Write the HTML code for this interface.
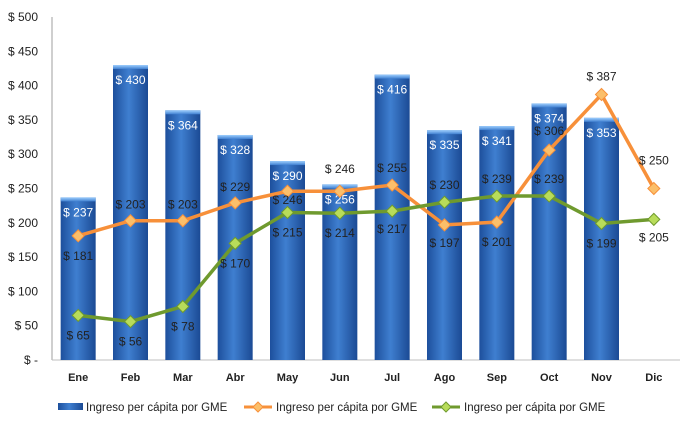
<!DOCTYPE html>
<html><head><meta charset="utf-8"><style>
body{margin:0;background:#fff;}
svg{display:block;font-family:"Liberation Sans",sans-serif;}
</style></head><body>
<svg id="c" width="688" height="428">
<defs>
<linearGradient id="bg" x1="0" x2="1" y1="0" y2="0">
<stop offset="0" stop-color="#1d4f9c"/><stop offset="0.45" stop-color="#3f7fd0"/><stop offset="1" stop-color="#1b4a94"/>
</linearGradient>
<linearGradient id="bt" x1="0" x2="0" y1="0" y2="1">
<stop offset="0" stop-color="#9fd0ff"/><stop offset="1" stop-color="#3f7fd0"/>
</linearGradient>
</defs>
</svg>
<script>
const categories=["Ene","Feb","Mar","Abr","May","Jun","Jul","Ago","Sep","Oct","Nov","Dic"];
const barValues=[237,430,364,328,290,256,416,335,341,374,353,null];
const orangeValues=[181,203,203,229,246,246,255,197,201,306,387,250];
const greenValues=[65,56,78,170,215,214,217,230,239,239,199,205];
const yTicks=[0,50,100,150,200,250,300,350,400,450,500];
const orangeLabelDy=[20,-16,-16,-16,9,-22,-17,18,20,-19,-18,-28];
const greenLabelDy=[20,20,20,20,20,20,18,-17,-17,-17,20,18];
const svg=document.getElementById('c');
const NS='http://www.w3.org/2000/svg';
const x0=52,plotW=628,y0=360,yTop=17;
const xs=i=>x0+plotW/categories.length*(i+0.5);
const ys=v=>y0-(v/500)*(y0-yTop);
function mk(t,a,p){const e=document.createElementNS(NS,t);for(const k in a)e.setAttribute(k,a[k]);(p||svg).appendChild(e);return e;}
const fmt=v=>v===0?"$ -":"$ "+v;
// axis
const ax=mk('line',{x1:x0,y1:yTop,x2:x0,y2:y0,stroke:'#bfbfbf','stroke-width':1.5});

const bx=mk('line',{x1:x0,y1:y0,x2:x0+plotW,y2:y0,stroke:'#bfbfbf','stroke-width':1});

yTicks.forEach(v=>{const t=mk('text',{x:38,y:ys(v)+4,'font-size':12,'text-anchor':'end',fill:'#222'});t.textContent=fmt(v);
});
categories.forEach((c,i)=>{const t=mk('text',{x:xs(i),y:381,'font-size':11,'text-anchor':'middle','font-weight':'bold',fill:'#222'});t.textContent=c;
});
// bars
const bw=35;
barValues.forEach((v,i)=>{if(v==null)return;const y=ys(v);
const r=mk('rect',{x:xs(i)-bw/2,y:y,width:bw,height:y0-y,fill:'url(#bg)'});

mk('rect',{x:xs(i)-bw/2,y:y,width:bw,height:4,fill:'url(#bt)'});
const t=mk('text',{x:xs(i),y:y+19,'font-size':12,'text-anchor':'middle',fill:'#fff'});t.textContent=fmt(v);
});
function series(vals,color,mark,dys,name){
const pl=mk('polyline',{points:vals.map((v,i)=>xs(i)+','+ys(v)).join(' '),fill:'none',stroke:color,'stroke-width':3.5,'stroke-linejoin':'round'});

vals.forEach((v,i)=>{const x=xs(i),y=ys(v);
const p=mk('polygon',{points:`${x},${y-6} ${x+6},${y} ${x},${y+6} ${x-6},${y}`,fill:mark,stroke:color,'stroke-width':1});

const t=mk('text',{x:x,y:y+dys[i]+4,'font-size':12,'text-anchor':'middle',fill:'#222'});t.textContent=fmt(v);
});}
series(orangeValues,'#f7903a','#fbbf6a',orangeLabelDy,'orange-series');
series(greenValues,'#6f9a2e','#b8dc5a',greenLabelDy,'green-series');
// legend
const legend=[["bar","#3f7fd0",58],["line","#f7903a",244],["line","#6f9a2e",432]];
legend.forEach((l,k)=>{const g=mk('g',{});
if(l[0]==="bar"){mk('rect',{x:l[2],y:403,width:25,height:7,fill:'url(#bg)'},g);}
else{mk('line',{x1:l[2],y1:407,x2:l[2]+28,y2:407,stroke:l[1],'stroke-width':3},g);
mk('polygon',{points:`${l[2]+14},${402} ${l[2]+19},${407} ${l[2]+14},${412} ${l[2]+9},${407}`,fill:k==1?'#fbbf6a':'#b8dc5a',stroke:l[1]},g);}
const t=mk('text',{x:l[2]+(l[0]==="bar"?28:32),y:411,'font-size':11.5,fill:'#222'},g);t.textContent="Ingreso per cápita por GME";});
</script>
</body></html>
